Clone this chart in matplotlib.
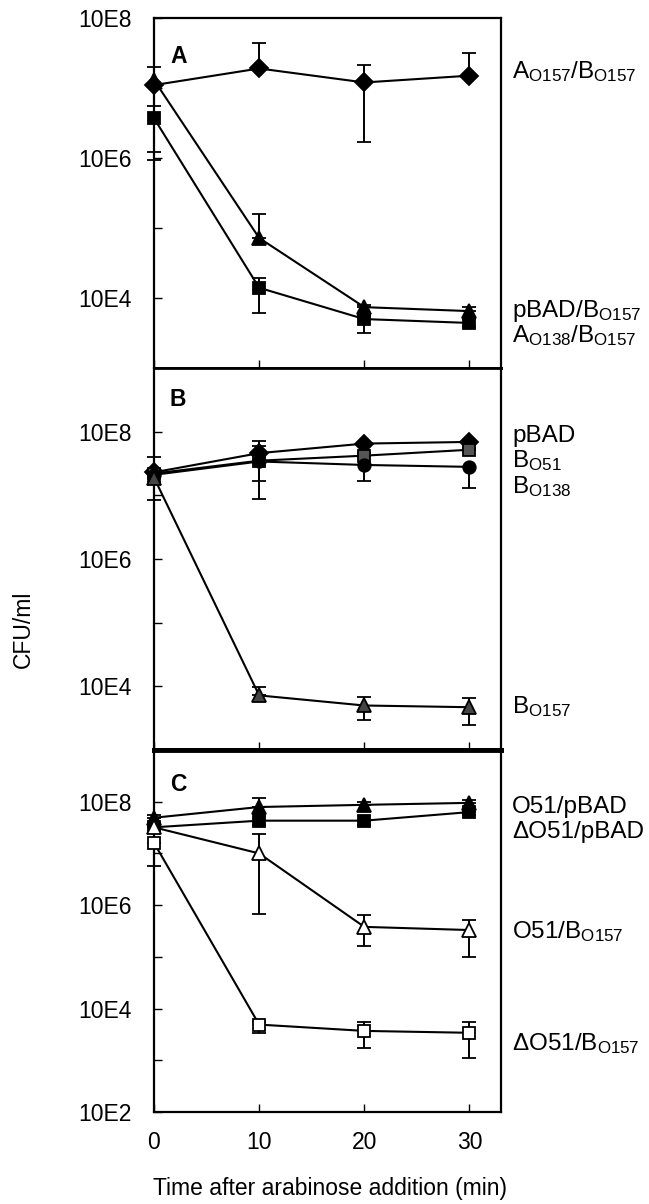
import numpy as np
import matplotlib
matplotlib.use("Agg")
import matplotlib.pyplot as plt
from matplotlib.ticker import FixedLocator, NullLocator

plt.rcParams["font.family"] = ["Liberation Sans", "DejaVu Sans"]
plt.rcParams["mathtext.fontset"] = "custom"
plt.rcParams["mathtext.rm"] = "Liberation Sans"
plt.rcParams["mathtext.it"] = "Liberation Sans"

t = [0, 10, 20, 30]

# panel A: value, lower error end, upper error end
a_o157 = [1.1e7, 1.9e7, 1.2e7, 1.5e7]
a_o157_lo = [1.1e7, 1.9e7, 1.7e6, 1.5e7]
a_o157_hi = [1.1e7, 4.4e7, 2.1e7, 3.2e7]
a_pbad = [1.3e7, 7.2e4, 7.4e3, 6.5e3]
a_pbad_lo = [1.2e6, 7.2e4, 7.4e3, 6.5e3]
a_pbad_hi = [2.0e7, 1.6e5, 8.0e3, 7.5e3]
a_o138 = [3.7e6, 1.4e4, 5.0e3, 4.4e3]
a_o138_lo = [9.4e5, 6.2e3, 3.2e3, 3.8e3]
a_o138_hi = [5.5e6, 1.95e4, 5.5e3, 5.0e3]

# panel B
b_pbad = [2.3e7, 4.6e7, 6.5e7, 6.9e7]
b_pbad_lo = [2.3e7, 4.6e7, 6.5e7, 6.9e7]
b_pbad_hi = [4.0e7, 7.2e7, 7.0e7, 7.5e7]
b_o51 = [2.2e7, 3.5e7, 4.2e7, 5.2e7]
b_o51_lo = [1.6e7, 1.7e7, 4.2e7, 5.2e7]
b_o51_hi = [2.6e7, 6.0e7, 4.6e7, 5.6e7]
b_o138 = [2.1e7, 3.4e7, 3.0e7, 2.8e7]
b_o138_lo = [1.5e7, 8.9e6, 1.7e7, 1.3e7]
b_o138_hi = [2.1e7, 3.4e7, 3.0e7, 2.8e7]
b_o157 = [1.9e7, 7.2e3, 5.0e3, 4.7e3]
b_o157_lo = [8.3e6, 7.2e3, 3.0e3, 2.5e3]
b_o157_hi = [1.9e7, 9.6e3, 6.9e3, 6.5e3]

# panel C
c_o51_pbad = [4.9e7, 7.9e7, 8.7e7, 9.5e7]
c_o51_pbad_lo = [4.9e7, 7.9e7, 8.7e7, 9.5e7]
c_o51_pbad_hi = [5.5e7, 1.2e8, 1.0e8, 1.1e8]
c_d51_pbad = [3.2e7, 4.3e7, 4.3e7, 6.3e7]
c_d51_pbad_lo = [2.6e7, 3.6e7, 3.6e7, 5.6e7]
c_d51_pbad_hi = [3.2e7, 4.3e7, 4.3e7, 6.3e7]
c_o51_b157 = [3.2e7, 1.0e7, 3.8e5, 3.3e5]
c_o51_b157_lo = [3.2e7, 6.8e5, 1.6e5, 1.0e5]
c_o51_b157_hi = [3.2e7, 2.4e7, 6.5e5, 5.2e5]
c_d51_b157 = [1.6e7, 4.9e3, 3.7e3, 3.4e3]
c_d51_b157_lo = [5.8e6, 3.4e3, 1.7e3, 1.1e3]
c_d51_b157_hi = [1.6e7, 5.5e3, 5.5e3, 5.5e3]

W, H = 649, 1204
FS = 16.5
fig = plt.figure(figsize=(W / 100, H / 100), dpi=100)


def make_ax(top_px, bot_px, ymin, ymax):
    ax = fig.add_axes([154 / W, 1 - bot_px / H, (501 - 154) / W, (bot_px - top_px) / H])
    ax.set_yscale("log")
    ax.set_ylim(ymin, ymax)
    ax.set_xlim(0, 33)
    ax.set_xticks([0, 10, 20, 30])
    ax.yaxis.set_minor_locator(NullLocator())
    for s in ax.spines.values():
        s.set_linewidth(1.6)
    ax.tick_params(direction="in", length=6, width=1.0, labelsize=FS)
    ax.tick_params(axis="y", pad=16)
    return ax


def series(ax, y, lo, hi, marker, ms, fc, ec="black"):
    y = np.array(y)
    yerr = [y - np.array(lo), np.array(hi) - y]
    ax.errorbar(t, y, yerr=yerr, color="black", lw=1.5, elinewidth=1.4,
                capsize=5, capthick=1.4, marker=marker, ms=ms, mfc=fc,
                mec=ec, mew=1.3, clip_on=False, zorder=3)


axA = make_ax(18, 368, 1e3, 1e8)
axB = make_ax(368, 750, 1e3, 1e9)
axC = make_ax(750, 1112, 1e2, 1e9)

series(axA, a_o157, a_o157_lo, a_o157_hi, "D", 9, "black")
series(axA, a_pbad, a_pbad_lo, a_pbad_hi, "^", 10, "black")
series(axA, a_o138, a_o138_lo, a_o138_hi, "s", 8.5, "black")

series(axB, b_pbad, b_pbad_lo, b_pbad_hi, "D", 9, "black")
series(axB, b_o51, b_o51_lo, b_o51_hi, "s", 8.5, "#555555")
series(axB, b_o138, b_o138_lo, b_o138_hi, "o", 9, "black")
series(axB, b_o157, b_o157_lo, b_o157_hi, "^", 10, "#444444")

series(axC, c_o51_pbad, c_o51_pbad_lo, c_o51_pbad_hi, "^", 10, "black")
series(axC, c_d51_pbad, c_d51_pbad_lo, c_d51_pbad_hi, "s", 8.5, "black")
series(axC, c_o51_b157, c_o51_b157_lo, c_o51_b157_hi, "^", 10, "white")
series(axC, c_d51_b157, c_d51_b157_lo, c_d51_b157_hi, "s", 8.5, "white")

axA.yaxis.set_major_locator(FixedLocator([1e4, 1e5, 1e6, 1e7, 1e8]))
axA.set_yticklabels(["10E4", "", "10E6", "", "10E8"])
axB.yaxis.set_major_locator(FixedLocator([1e4, 1e5, 1e6, 1e7, 1e8]))
axB.set_yticklabels(["10E4", "", "10E6", "", "10E8"])
axC.yaxis.set_major_locator(FixedLocator([1e2, 1e3, 1e4, 1e5, 1e6, 1e7, 1e8]))
axC.set_yticklabels(["10E2", "", "10E4", "", "10E6", "", "10E8"])

for ax in (axA, axB):
    ax.tick_params(labelbottom=False)
axA.spines["bottom"].set_linewidth(2.0)
axB.spines["top"].set_linewidth(2.0)
axB.spines["bottom"].set_linewidth(3.5)
axC.spines["top"].set_linewidth(3.5)
axC.tick_params(axis="x", pad=14)

for ax, letter, yy in ((axA, "A", 0.923), (axB, "B", 0.948), (axC, "C", 0.936)):
    ax.text(0.046, yy, letter, transform=ax.transAxes, fontsize=FS,
            fontweight="bold", va="top", ha="left")

sub = lambda s: r"$_{\mathrm{" + s + "}}$"
labels = [
    (78, "A" + sub("O157") + "/B" + sub("O157")),
    (317, "pBAD/B" + sub("O157")),
    (342, "A" + sub("O138") + "/B" + sub("O157")),
    (442, "pBAD"),
    (467, "B" + sub("O51")),
    (493, "B" + sub("O138")),
    (713, "B" + sub("O157")),
    (813, "O51/pBAD"),
    (838, "\u0394O51/pBAD"),
    (938, "O51/B" + sub("O157")),
    (1050, "\u0394O51/B" + sub("O157")),
]
for y_px, txt in labels:
    fig.text(512 / W, 1 - y_px / H, txt, fontsize=17.5, va="baseline", ha="left")

fig.text(23 / W, 1 - 629 / H, "CFU/ml", rotation=90, fontsize=FS,
         va="center", ha="center")
fig.text(330 / W, 1 - 1188 / H, "Time after arabinose addition (min)",
         fontsize=FS, va="center", ha="center")

fig.savefig("out.png", dpi=100, facecolor="white")
